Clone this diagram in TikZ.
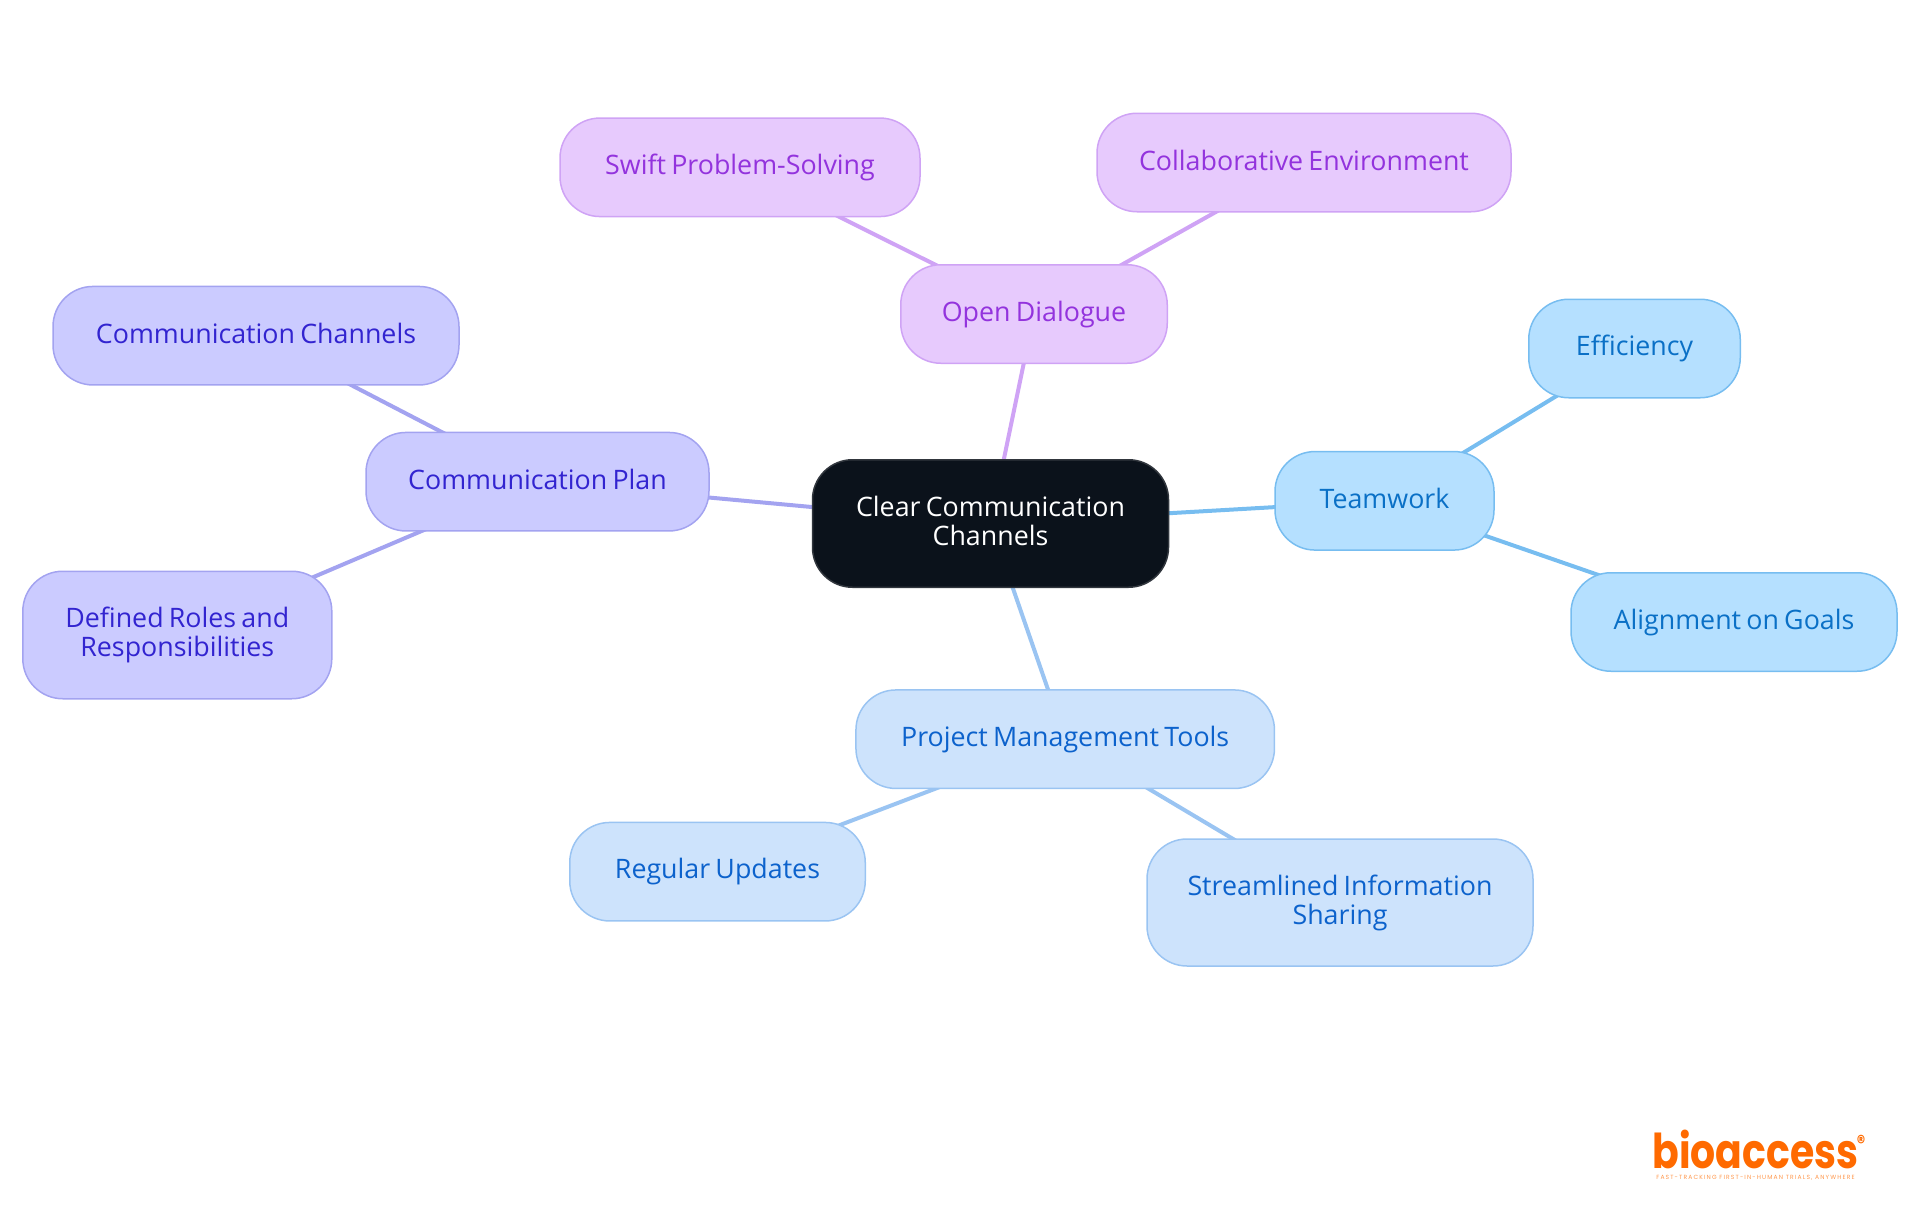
\documentclass[tikz,border=0pt]{standalone}
\usepackage{fontspec}
\setmainfont[WordSpace=0.75]{Open Sans}
\newfontfamily\logofont[FakeStretch=0.82]{Poppins}
\newfontfamily\tagfont[LetterSpace=19]{Poppins}
\usetikzlibrary{backgrounds}
\definecolor{rootfill}{HTML}{0B121B}
\definecolor{rootline}{HTML}{31363D}
\definecolor{violetfill}{HTML}{E7CAFD}
\definecolor{violetline}{HTML}{CFA3F5}
\definecolor{violettext}{HTML}{9333DD}
\definecolor{indigofill}{HTML}{CBCBFF}
\definecolor{indigoline}{HTML}{A3A3F0}
\definecolor{indigotext}{HTML}{3224D0}
\definecolor{skyfill}{HTML}{B5E0FF}
\definecolor{skyline}{HTML}{77BDF0}
\definecolor{skytext}{HTML}{0A70C6}
\definecolor{bluefill}{HTML}{CDE3FC}
\definecolor{blueline}{HTML}{9AC4F2}
\definecolor{bluetext}{HTML}{0C62CC}
\definecolor{logoorange}{HTML}{FF6A00}
\tikzset{
	mapnode/.style={draw, line width=1.5pt, rounded corners=40pt, inner sep=0pt, align=center, font=\fontsize{26.8}{29}\selectfont,
		execute at begin node={\rule[-5pt]{0pt}{26pt}}, execute at end node={\rule[-5pt]{0pt}{5pt}}},
	rootnode/.style={mapnode, fill=rootfill, draw=rootline, text=white},
	violetnode/.style={mapnode, fill=violetfill, draw=violetline, text=violettext},
	indigonode/.style={mapnode, fill=indigofill, draw=indigoline, text=indigotext},
	skynode/.style={mapnode, fill=skyfill, draw=skyline, text=skytext},
	bluenode/.style={mapnode, fill=bluefill, draw=blueline, text=bluetext},
	link/.style={line width=4pt}
}
\begin{document}
\begin{tikzpicture}[x=1pt, y=-1pt]
	\useasboundingbox (0,0) rectangle (1920,1215);
	%centre
	\node (root) at (990.5,523.5) [rootnode, minimum width=356pt, minimum height=127.5pt]{Clear Communication\\Channels};
	%top branch
	\node (dialogue) at (1034,314) [violetnode, minimum width=266.5pt, minimum height=98.5pt]{Open Dialogue};
	\node (swift) at (740,167.3) [violetnode, minimum width=360pt, minimum height=98.5pt]{Swift Problem-Solving};
	\node (collab) at (1304,162.5) [violetnode, minimum width=414pt, minimum height=98.5pt]{Collaborative Environment};
	%left branch
	\node (plan) at (537.5,481.7) [indigonode, minimum width=343pt, minimum height=98.5pt]{Communication Plan};
	\node (channels) at (256,335.7) [indigonode, minimum width=406pt, minimum height=98.5pt]{Communication Channels};
	\node (roles) at (177.3,635) [indigonode, minimum width=309pt, minimum height=127.5pt]{Defined Roles and\\Responsibilities};
	%right branch
	\node (teamwork) at (1384.5,500.8) [skynode, minimum width=219pt, minimum height=98.5pt]{Teamwork};
	\node (efficiency) at (1634.5,348.5) [skynode, minimum width=211.5pt, minimum height=98.5pt]{Efficiency};
	\node (goals) at (1734,622) [skynode, minimum width=326pt, minimum height=98.5pt]{Alignment on Goals};
	%bottom branch
	\node (tools) at (1065.2,739.2) [bluenode, minimum width=418.5pt, minimum height=98.5pt]{Project Management Tools};
	\node (updates) at (717.5,871.7) [bluenode, minimum width=295.5pt, minimum height=98.5pt]{Regular Updates};
	\node (sharing) at (1340,902.5) [bluenode, minimum width=386pt, minimum height=127pt]{Streamlined Information\\Sharing};
	%links
	\begin{pgfonlayer}{background}
		\foreach \a/\b in {root/dialogue, dialogue/swift, dialogue/collab}{
			\draw[link, violetline] (\a.center) -- (\b.center);
		}
		\foreach \a/\b in {root/plan, plan/channels, plan/roles}{
			\draw[link, indigoline] (\a.center) -- (\b.center);
		}
		\foreach \a/\b in {root/teamwork, teamwork/efficiency, teamwork/goals}{
			\draw[link, skyline] (\a.center) -- (\b.center);
		}
		\foreach \a/\b in {root/tools, tools/updates, tools/sharing}{
			\draw[link, blueline] (\a.center) -- (\b.center);
		}
	\end{pgfonlayer}
	%logo
	\node (logo) at (1755.5,1168) [anchor=base, inner sep=0pt, text=logoorange, font=\logofont\bfseries\fontsize{48}{48}\selectfont]{bioaccess};
	\node (reg) at (1861,1142) [inner sep=0pt, text=logoorange, font=\logofont\bfseries\fontsize{20}{20}\selectfont]{®};
	\node (tagline) at (1755.5,1177.5) [inner sep=0pt, text=logoorange!70, font=\tagfont\fontsize{6}{6}\selectfont]{FAST-TRACKING FIRST-IN-HUMAN TRIALS, ANYWHERE};
\end{tikzpicture}
\end{document}
